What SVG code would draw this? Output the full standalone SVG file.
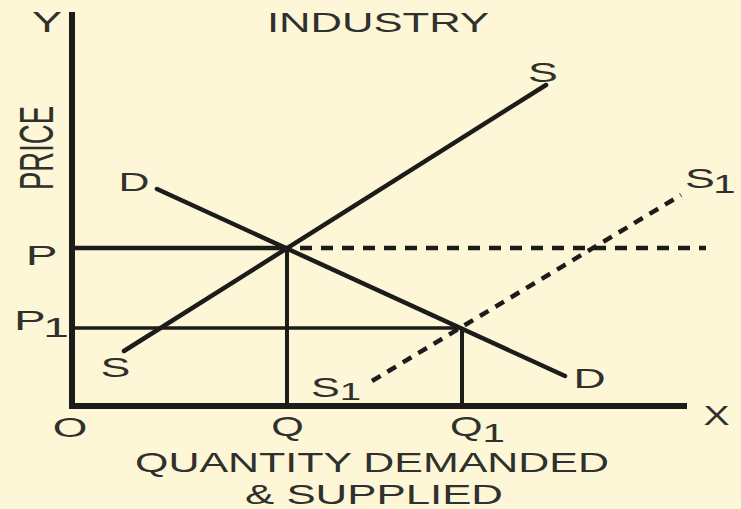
<svg xmlns="http://www.w3.org/2000/svg" width="741" height="509" viewBox="0 0 741 509">
<style>
.ln{fill:none;stroke:#1c1c1a;stroke-width:4.5;stroke-linecap:butt}
.t{font-family:"Liberation Sans",Arial,sans-serif;fill:#30302c;font-size:28px}
.c{text-anchor:middle}
</style>
<rect x="0" y="0" width="741" height="509" fill="#fdf7d8"/>
<g id="connectors">
<path id="axes" class="ln" d="M72,12 V406 H687" style="stroke-width:6;stroke-linejoin:miter"/>
<path id="p-line" class="ln" d="M72,248 H287"/>
<path id="p1-line" class="ln" d="M72,328 H462" style="stroke-width:3.5"/>
<path id="q-line" class="ln" d="M287,248 V406" style="stroke-width:4"/>
<path id="q1-line" class="ln" d="M462,328 V406" style="stroke-width:4"/>
<path id="demand" class="ln" d="M157,189 L565,376" style="stroke-linecap:round"/>
<path id="supply" class="ln" d="M124,351 L546,85" style="stroke-linecap:round"/>
<path id="p-dashed" class="ln" d="M300,248 H706" style="stroke-dasharray:12 9"/>
<path id="supply1" class="ln" d="M372,381 L681,195" style="stroke-dasharray:10 8"/>
</g>
<g id="labels">
<text class="t c" transform="translate(47,32) scale(1.5,1)" style="font-size:30px">Y</text>
<text class="t" x="267" y="32" textLength="222" lengthAdjust="spacingAndGlyphs">INDUSTRY</text>
<text class="t" transform="translate(53,190) scale(1.8,1) rotate(-90)" style="font-size:27px" textLength="84" lengthAdjust="spacingAndGlyphs">PRICE</text>
<text class="t c" transform="translate(134,191) scale(1.65,1)" style="font-size:26px">D</text>
<text class="t c" transform="translate(543,82) scale(1.6,1)">S</text>
<text class="t" transform="translate(685,188) scale(1.6,1)">S<tspan dx="-1" dy="5" style="font-size:25px">1</tspan></text>
<text class="t c" transform="translate(41.5,265) scale(1.7,1)">P</text>
<text class="t" transform="translate(14,330) scale(1.7,1)">P<tspan dx="-1.5" dy="7" style="font-size:27px">1</tspan></text>
<text class="t c" transform="translate(115.5,377) scale(1.6,1)">S</text>
<text class="t c" transform="translate(70,437) scale(1.65,1)" style="font-size:27px">O</text>
<text class="t c" transform="translate(287.5,436) scale(1.55,1)" style="font-size:27px">Q</text>
<text class="t" transform="translate(450,436) scale(1.55,1)" style="font-size:27px">Q<tspan dy="6" style="font-size:26px">1</tspan></text>
<text class="t" transform="translate(311,397) scale(1.6,1)" style="font-size:27px">S<tspan dy="3" style="font-size:24px">1</tspan></text>
<text class="t c" transform="translate(589.5,388) scale(1.65,1)" style="font-size:27px">D</text>
<text class="t c" transform="translate(716.5,425) scale(1.45,1)" style="font-size:27px">X</text>
<text class="t" x="135" y="472" textLength="474" lengthAdjust="spacingAndGlyphs">QUANTITY DEMANDED</text>
<text class="t" x="245" y="504" textLength="258" lengthAdjust="spacingAndGlyphs">&amp; SUPPLIED</text>
</g>
</svg>
